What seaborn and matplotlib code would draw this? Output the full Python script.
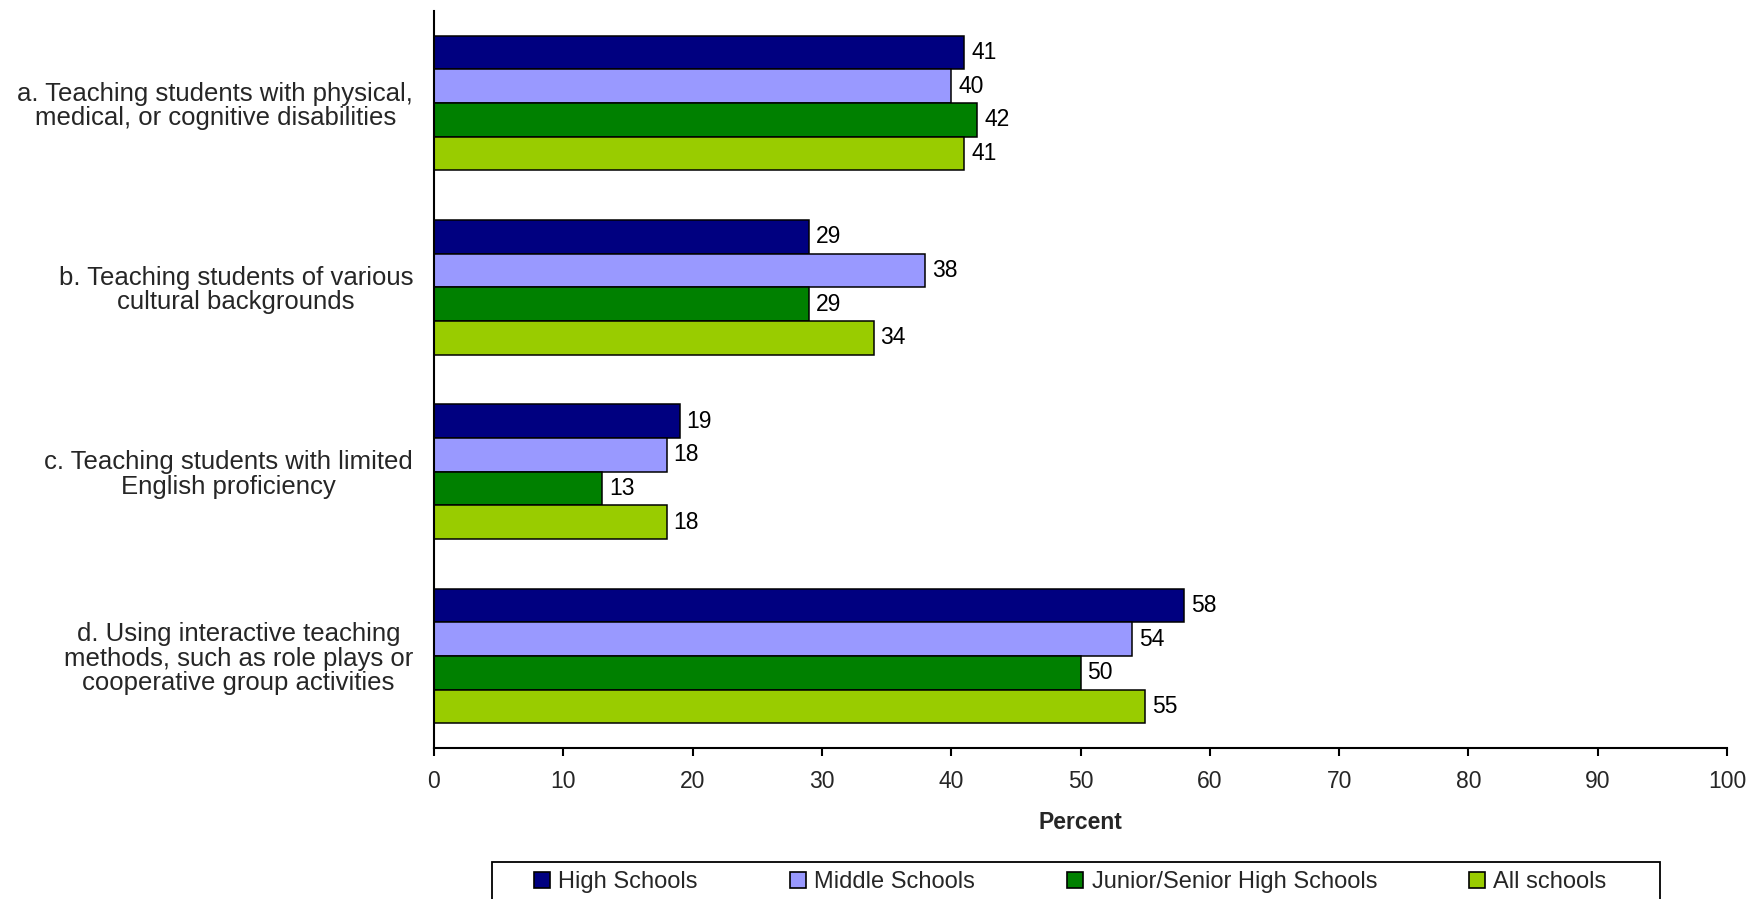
import matplotlib
matplotlib.use("Agg")
import matplotlib.pyplot as plt
import seaborn as sns
import pandas as pd
from matplotlib.patches import Patch, Rectangle

categories = [
    "a. Teaching students with physical,\nmedical, or cognitive disabilities",
    "b. Teaching students of various\ncultural backgrounds",
    "c. Teaching students with limited\nEnglish proficiency",
    "d. Using interactive teaching\nmethods, such as role plays or\ncooperative group activities",
]
series = ["High Schools", "Middle Schools", "Junior/Senior High Schools", "All schools"]
high_schools = [41, 29, 19, 58]
middle_schools = [40, 38, 18, 54]
junior_senior = [42, 29, 13, 50]
all_schools = [41, 34, 18, 55]
colors = ["#000080", "#9999FF", "#008000", "#99CC00"]
xticks = [0, 10, 20, 30, 40, 50, 60, 70, 80, 90, 100]

values = [high_schools, middle_schools, junior_senior, all_schools]
rows = []
for s, vals in zip(series, values):
    for c, v in zip(categories, vals):
        rows.append({"Category": c, "Series": s, "Percent": v})
df = pd.DataFrame(rows)

sns.set_theme(style="white")
plt.rcParams["font.family"] = ["Liberation Sans", "DejaVu Sans"]

W, H = 1750, 899
fig = plt.figure(figsize=(W / 100, H / 100), dpi=100)
ax = fig.add_axes([434 / W, 1 - 748 / H, (1727 - 434) / W, (748 - 11) / H])

sns.barplot(data=df, y="Category", x="Percent", hue="Series", order=categories,
            hue_order=series, palette=colors, orient="h", width=0.73,
            edgecolor="black", linewidth=1.1, saturation=1, ax=ax, legend=False)

for cont in ax.containers:
    ax.bar_label(cont, fmt="%d", padding=5, fontsize=16.5, color="black")

ax.set_xlim(0, 100)
ax.set_ylim(3.5, -0.5)
ax.set_xticks(xticks)
ax.set_xticklabels([str(t) for t in xticks], fontsize=16.5)
ax.set_ylabel("")
ax.set_xlabel("Percent", fontsize=16.5, fontweight="bold", labelpad=13)
ax.tick_params(axis="x", which="major", direction="out", length=6, width=1.5,
               color="black", pad=10, bottom=True)
ax.tick_params(axis="y", length=0, pad=15, labelsize=18.5)
for lab in ax.get_yticklabels():
    lab.set_multialignment("center")
    lab.set_horizontalalignment("right")
    lab.set_linespacing(1.03)

for side in ["top", "right"]:
    ax.spines[side].set_visible(False)
for side in ["left", "bottom"]:
    ax.spines[side].set_color("black")
    ax.spines[side].set_linewidth(1.5)
ax.grid(False)

handles = [Patch(facecolor=c, edgecolor="black", linewidth=1.2) for c in colors]
leg = fig.legend(handles, series, loc="center left", bbox_to_anchor=(534 / W, 1 - 882 / H),
                 ncol=4, fontsize=17, frameon=False,
                 handlelength=0.68, handleheight=0.68, handletextpad=0.35,
                 columnspacing=3.9, borderpad=0, borderaxespad=0)
fig.patches.append(Rectangle((492 / W, -2 / H), (1660 - 492) / W, (899 - 862 + 2) / H,
                             transform=fig.transFigure, facecolor="none",
                             edgecolor="black", linewidth=1.3))

fig.savefig("out.png", dpi=100, facecolor="white")
